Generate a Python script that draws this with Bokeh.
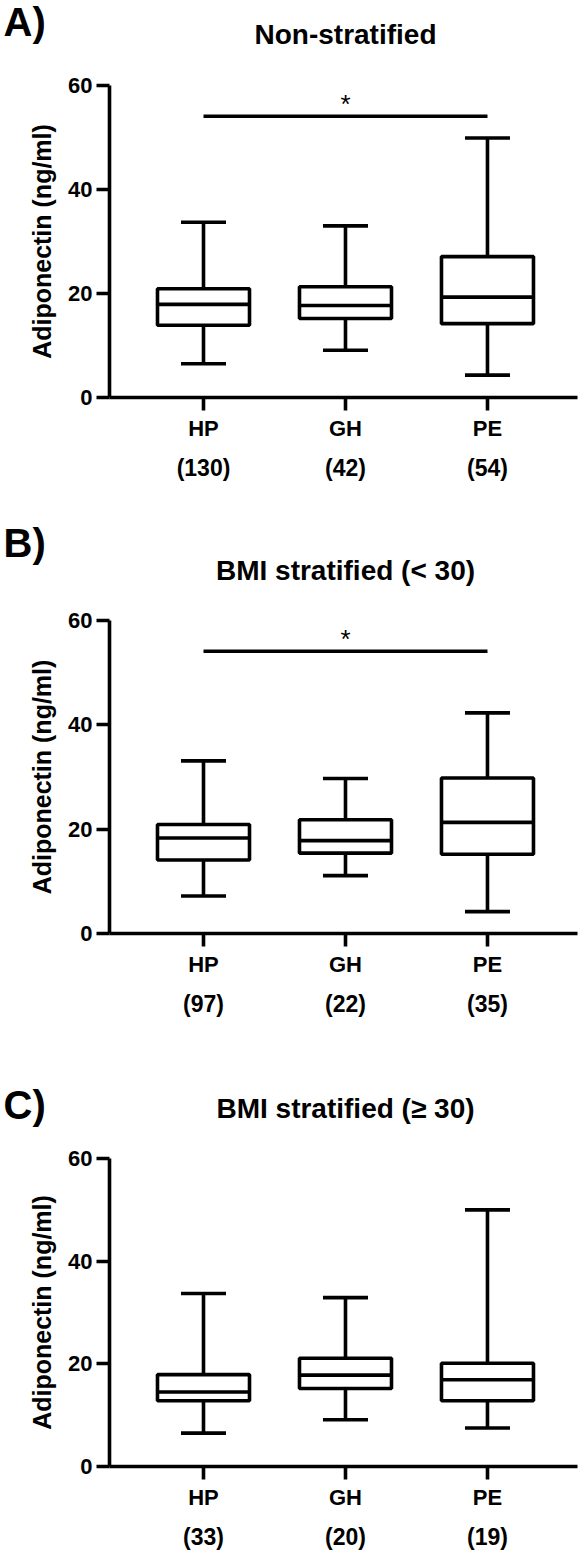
from bokeh.plotting import figure
from bokeh.layouts import column
from bokeh.models import Range1d, Label, LinearAxis, FixedTicker, Column
from bokeh.core.properties import value
from bokeh.embed import file_html
from bokeh.resources import INLINE

# ---------------- data ----------------
groups = ["HP", "GH", "PE"]
group_pos = [0, 1, 2]

titles = ["Non-stratified", "BMI stratified (< 30)", "BMI stratified (\u2265 30)"]
panel_tags = ["A)", "B)", "C)"]
y_label = "Adiponectin (ng/ml)"
y_ticks = [0, 20, 40, 60]

counts_a = [130, 42, 54]
counts_b = [97, 22, 35]
counts_c = [33, 20, 19]

# whisker low, Q1, median, Q3, whisker high
lo_a = [6.5, 9.1, 4.3]
q1_a = [13.9, 15.2, 14.2]
med_a = [17.9, 17.7, 19.3]
q3_a = [20.9, 21.3, 27.1]
hi_a = [33.7, 33.0, 49.9]

lo_b = [7.2, 11.1, 4.2]
q1_b = [14.1, 15.4, 15.2]
med_b = [18.3, 17.8, 21.3]
q3_b = [20.9, 21.8, 29.8]
hi_b = [33.1, 29.7, 42.3]

lo_c = [6.5, 9.1, 7.5]
q1_c = [12.8, 15.2, 12.8]
med_c = [14.5, 17.8, 16.9]
q3_c = [17.9, 21.1, 20.1]
hi_c = [33.7, 32.9, 50.0]

# significance bars: (from group index, to group index, y level) or None
sig_a = (0, 2, 54.1)
sig_b = (0, 2, 54.1)
sig_c = None

# ---------------- layout ----------------
W = 586
LEFT, RIGHT = 109, 9
X0, X1 = -0.662, 2.634
BOX_W = 0.648
CAP_W = 0.317
LW = 3.6
FONT = "Liberation Sans"
MAIN_TOP = 20

# (header height, frame height, bottom border, tag y, title y)
geoms = [
    (65, 312, 118, 21, 34),
    (85, 313, 102, 27, 55),
    (103, 308, 88, 69, 73),
]

panels = [
    (lo_a, q1_a, med_a, q3_a, hi_a, counts_a, sig_a),
    (lo_b, q1_b, med_b, q3_b, hi_b, counts_b, sig_b),
    (lo_c, q1_c, med_c, q3_c, hi_c, counts_c, sig_c),
]


def make_header(i):
    hh, fh, bottom, tag_base, title_base = geoms[i]
    h = figure(width=W, height=hh, x_range=Range1d(0, W), y_range=Range1d(hh, 0),
               output_backend="svg", toolbar_location=None, title=None,
               x_axis_type=None, y_axis_type=None,
               min_border=0, min_border_left=0, min_border_right=0,
               min_border_top=0, min_border_bottom=0)
    h.outline_line_color = None
    h.xgrid.visible = False
    h.ygrid.visible = False
    h.text(x=[3], y=[tag_base], text=[panel_tags[i]], text_font=value(FONT),
           text_font_style="bold", text_font_size="40px", text_align="left",
           text_baseline="alphabetic", text_color="black")
    h.text(x=[345], y=[title_base], text=[titles[i]], text_font=value(FONT),
           text_font_style="bold", text_font_size="28px", text_align="center",
           text_baseline="alphabetic", text_color="black")
    return h


def make_panel(i):
    lo, q1, med, q3, hi, counts, sig = panels[i]
    hh, fh, bottom, tag_base, title_base = geoms[i]
    H = MAIN_TOP + fh + bottom

    p = figure(width=W, height=H, x_range=Range1d(X0, X1), y_range=Range1d(0, 60),
               output_backend="svg", toolbar_location=None, title=None,
               min_border_left=LEFT, min_border_right=RIGHT,
               min_border_top=MAIN_TOP, min_border_bottom=bottom)
    p.outline_line_color = None
    p.xgrid.visible = False
    p.ygrid.visible = False

    # y axis
    ya = p.yaxis[0]
    ya.ticker = FixedTicker(ticks=y_ticks)
    ya.axis_line_width = LW
    ya.axis_line_color = "black"
    ya.major_tick_line_width = LW
    ya.major_tick_line_color = "black"
    ya.major_tick_out = 13
    ya.major_tick_in = 0
    ya.minor_tick_line_color = None
    ya.major_label_text_font = FONT
    ya.major_label_text_font_style = "bold"
    ya.major_label_text_font_size = "22px"
    ya.major_label_text_color = "black"
    ya.major_label_standoff = 4
    ya.axis_label = y_label
    ya.axis_label_text_font = FONT
    ya.axis_label_text_font_style = "bold"
    ya.axis_label_text_font_size = "25px"
    ya.axis_label_text_color = "black"
    ya.axis_label_standoff = 9

    # x axis (group names)
    xa = p.xaxis[0]
    xa.ticker = FixedTicker(ticks=group_pos)
    xa.major_label_overrides = {g: name for g, name in zip(group_pos, groups)}
    xa.axis_line_width = LW
    xa.axis_line_color = "black"
    xa.major_tick_line_width = LW
    xa.major_tick_line_color = "black"
    xa.major_tick_out = 13
    xa.major_tick_in = 0
    xa.minor_tick_line_color = None
    xa.major_label_text_font = FONT
    xa.major_label_text_font_style = "bold"
    xa.major_label_text_font_size = "22px"
    xa.major_label_text_color = "black"
    xa.major_label_standoff = 5

    # second axis with counts
    ca = LinearAxis(ticker=FixedTicker(ticks=group_pos),
                    major_label_overrides={g: "(%d)" % c for g, c in zip(group_pos, counts)},
                    axis_line_color=None, major_tick_line_color=None,
                    minor_tick_line_color=None,
                    major_label_text_font=FONT, major_label_text_font_style="bold",
                    major_label_text_font_size="23px", major_label_text_color="black",
                    major_label_standoff=5)
    p.add_layout(ca, "below")

    # whiskers
    p.segment(x0=group_pos, y0=q3, x1=group_pos, y1=hi, line_width=LW, line_color="black")
    p.segment(x0=group_pos, y0=q1, x1=group_pos, y1=lo, line_width=LW, line_color="black")
    # caps
    cl = [g - CAP_W / 2 for g in group_pos]
    cr = [g + CAP_W / 2 for g in group_pos]
    p.segment(x0=cl, y0=hi, x1=cr, y1=hi, line_width=LW, line_color="black")
    p.segment(x0=cl, y0=lo, x1=cr, y1=lo, line_width=LW, line_color="black")
    # boxes
    p.vbar(x=group_pos, width=BOX_W, top=q3, bottom=q1, fill_color="white",
           line_color="black", line_width=LW)
    # medians
    bl = [g - BOX_W / 2 for g in group_pos]
    br = [g + BOX_W / 2 for g in group_pos]
    p.segment(x0=bl, y0=med, x1=br, y1=med, line_width=LW, line_color="black")

    # significance
    if sig is not None:
        a, b, yv = sig
        p.segment(x0=[group_pos[a]], y0=[yv], x1=[group_pos[b]], y1=[yv],
                  line_width=LW, line_color="black")
        p.add_layout(Label(x=(group_pos[a] + group_pos[b]) / 2, y=yv + 2.3, text="*",
                           text_font=FONT, text_font_size="26px", text_align="center",
                           text_baseline="alphabetic", text_color="black"))
    return p


items = []
for i in range(3):
    items.append(Column(children=[make_header(i)], spacing=0))
    items.append(Column(children=[make_panel(i)], spacing=0))
layout = column(*items, spacing=0)
open("out.html", "w").write(file_html(layout, INLINE))
